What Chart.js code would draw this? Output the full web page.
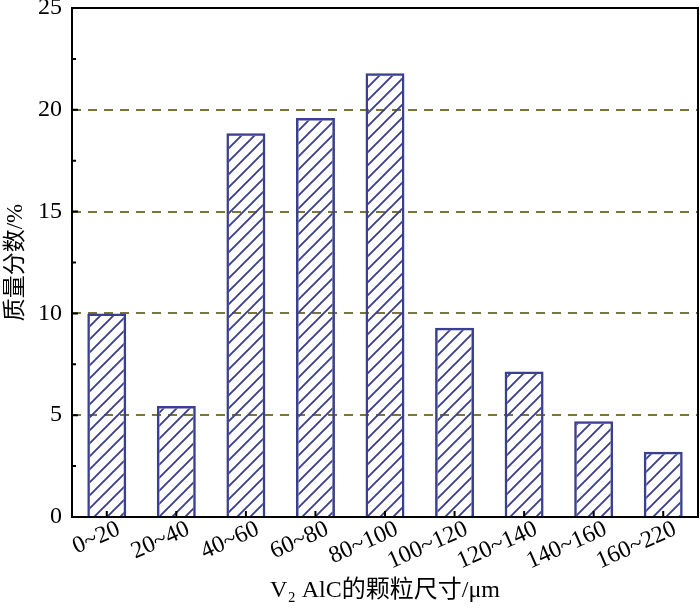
<!DOCTYPE html>
<html>
<head>
<meta charset="utf-8">
<style>
  html, body { margin: 0; padding: 0; background: #fff; }
  #wrap { width: 700px; height: 609px; }
</style>
<script src="https://cdn.jsdelivr.net/npm/chart.js@4/dist/chart.umd.min.js"></script>
</head>
<body>
<div id="wrap"><canvas id="myChart" width="700" height="609"></canvas></div>
<script>
// Categories (particle size ranges)
let categories = ["0~20", "20~40", "40~60", "60~80", "80~100", "100~120", "120~140", "140~160", "160~220"];
// Mass fraction, %
let values = [10.0, 5.45, 18.85, 19.6, 21.8, 9.3, 7.15, 4.7, 3.2];
// Y tick labels
let yTicks = [0, 5, 10, 15, 20, 25];

let serif = "'Liberation Serif', 'Noto Sans CJK SC', serif";
let barBlue = "#3b3f8f";

// Hatch pattern for bars
function makeHatch() {
    let s = 13;
    let c = document.createElement("canvas");
    c.width = s;
    c.height = s;
    let g = c.getContext("2d");
    g.strokeStyle = barBlue;
    g.lineWidth = 1.9;
    g.beginPath();
    g.moveTo(-2, s + 2);
    g.lineTo(s + 2, -2);
    g.moveTo(-2, 2);
    g.lineTo(2, -2);
    g.moveTo(s - 2, s + 2);
    g.lineTo(s + 2, s - 2);
    g.stroke();
    return g.createPattern(c, "repeat");
}

// Frame and inward ticks
let frame = {
    id: "frame",
    afterDraw(chart) {
        let ctx = chart.ctx;
        let a = chart.chartArea;
        let y = chart.scales.y;
        let x = chart.scales.x;
        ctx.save();
        ctx.strokeStyle = "#000";
        ctx.lineWidth = 2;
        ctx.strokeRect(a.left, a.top, a.right - a.left, a.bottom - a.top);
        ctx.beginPath();
        for (let v = 0; v <= 25; v += 2.5) {
            let py = y.getPixelForValue(v);
            let len = (v % 5 === 0) ? 6 : 4;
            ctx.moveTo(a.left, py);
            ctx.lineTo(a.left + len, py);
        }
        for (let i = 0; i < categories.length; i++) {
            let px = x.getPixelForValue(i);
            ctx.moveTo(px, a.bottom);
            ctx.lineTo(px, a.bottom - 6);
        }
        ctx.stroke();
        ctx.restore();
    }
};

let ctx = document.getElementById("myChart").getContext("2d");
let chart = new Chart(ctx, {
    type: "bar",
    data: {
        labels: categories,
        datasets: [{
            data: values,
            backgroundColor: makeHatch(),
            borderColor: barBlue,
            borderWidth: 2.5,
            barPercentage: 0.56,
            categoryPercentage: 1.0
        }]
    },
    options: {
        responsive: false,
        animation: false,
        devicePixelRatio: 1,
        layout: { padding: { top: 8, right: 2, left: 0, bottom: 0 } },
        plugins: {
            legend: { display: false },
            tooltip: { enabled: false }
        },
        scales: {
            x: {
                afterFit(scale) {
                    scale.height = 92;
                    scale.paddingLeft = 0;
                    scale.paddingRight = 0;
                },
                grid: { display: false },
                border: { display: false },
                ticks: {
                    color: "#000",
                    font: { family: serif, size: 24 },
                    autoSkip: false,
                    minRotation: 24,
                    maxRotation: 24,
                    labelOffset: 12,
                    padding: -10
                },
                title: {
                    display: true,
                    text: "V₂ AlC的颗粒尺寸/μm",
                    color: "#000",
                    font: { family: serif, size: 24 },
                    padding: { top: 0, bottom: 4 }
                }
            },
            y: {
                min: 0,
                max: 25,
                afterFit(scale) {
                    scale.width = 72;
                    scale.paddingTop = 0;
                    scale.paddingBottom = 0;
                },
                afterBuildTicks(scale) {
                    scale.ticks = yTicks.map(v => ({ value: v }));
                },
                grid: {
                    drawTicks: false,
                    lineWidth: 2,
                    color: c => (c.tick && (c.tick.value === 0 || c.tick.value === 25)) ? "rgba(0,0,0,0)" : "#7a7538"
                },
                border: { display: false, dash: [9, 7] },
                ticks: {
                    color: "#000",
                    font: { family: serif, size: 24 },
                    padding: 10
                },
                title: {
                    display: true,
                    text: "质量分数/%",
                    color: "#000",
                    font: { family: serif, size: 23 },
                    padding: { top: 2, bottom: 2 }
                }
            }
        }
    },
    plugins: [frame]
});
</script>
</body>
</html>
